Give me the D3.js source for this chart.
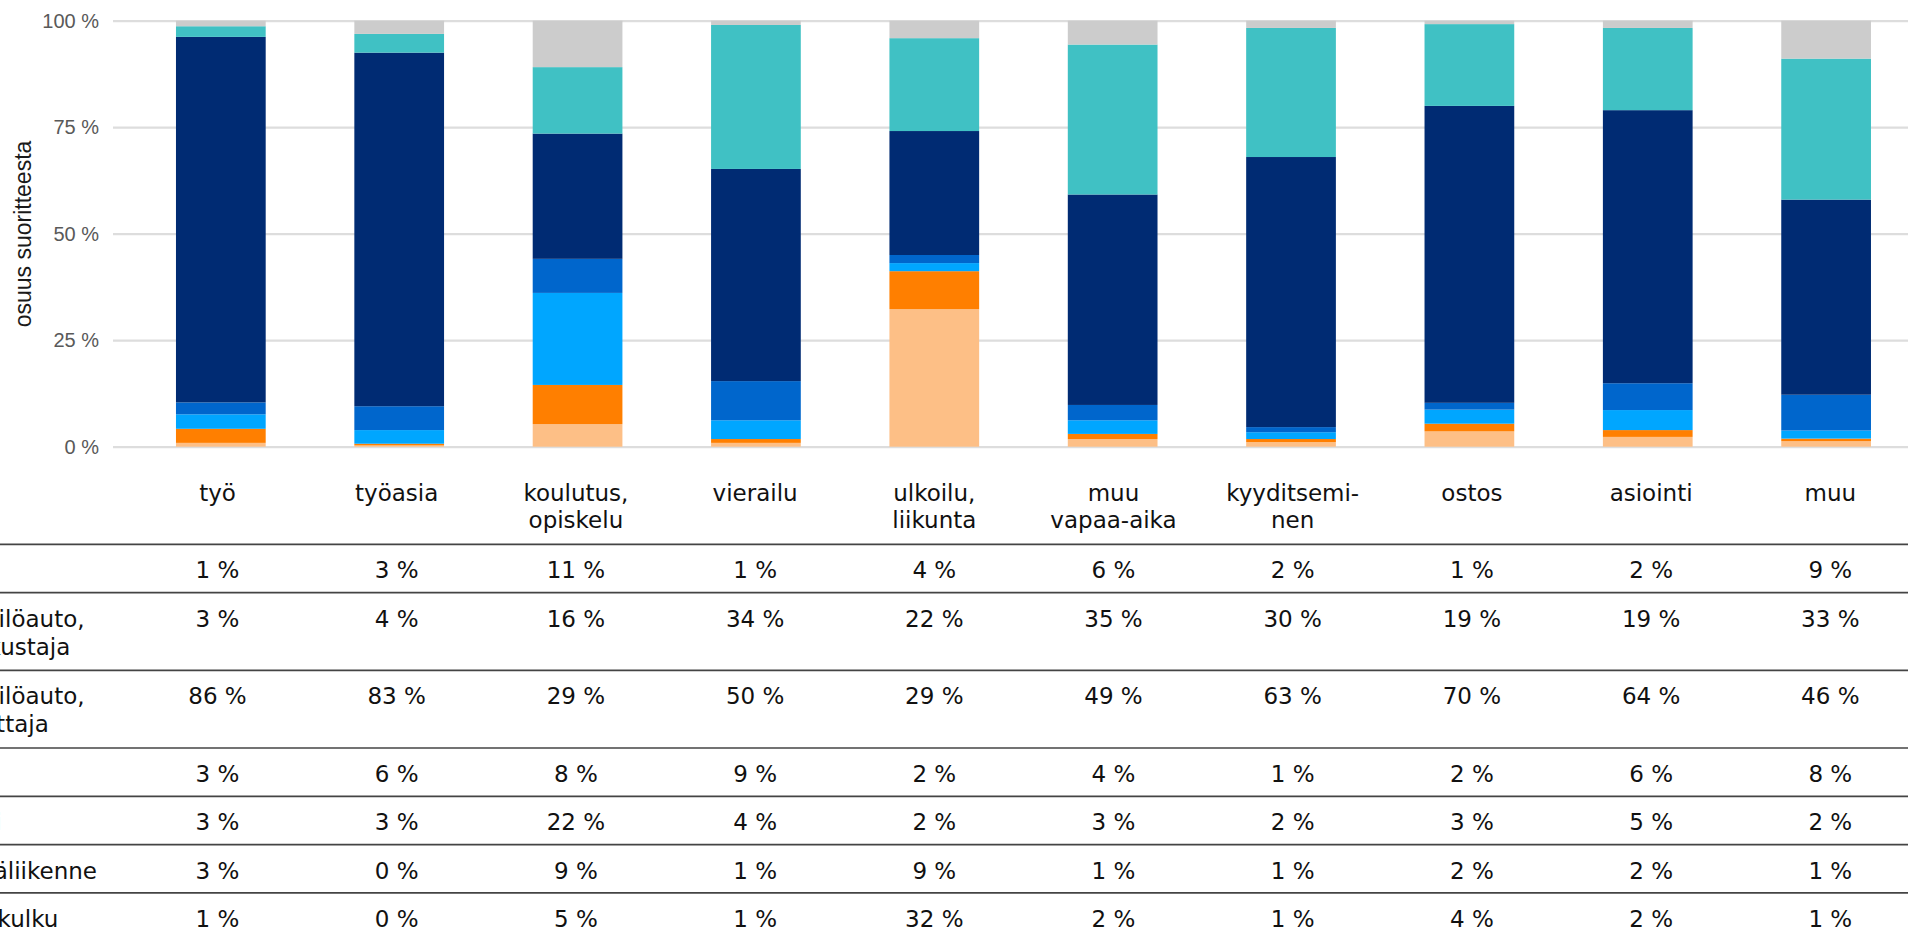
<!DOCTYPE html>
<html lang="fi">
<head>
<meta charset="utf-8">
<script src="https://cdn.jsdelivr.net/npm/d3@7"></script>
<style>
  html, body { margin: 0; padding: 0; background: #fff; overflow: hidden; }
  svg { display: block; }
</style>
</head>
<body>
<svg id="chart" width="1908" height="936"></svg>
<script>
// ---- data ----
const categoryLines = [["työ"], ["työasia"], ["koulutus,", "opiskelu"], ["vierailu"], ["ulkoilu,", "liikunta"],
  ["muu", "vapaa-aika"], ["kyyditsemi-", "nen"], ["ostos"], ["asiointi"], ["muu"]];
const categories = categoryLines.map(l => l.join(" "));

// series from bottom of the stack to the top
const seriesNames = ["jalankulku", "pyöräliikenne", "bussi", "juna", "henkilöauto, kuljettaja", "henkilöauto, matkustaja", "muu"];
const seriesLabelLines = [["jalankulku"], ["pyöräliikenne"], ["bussi"], ["juna"], ["henkilöauto,", "kuljettaja"], ["henkilöauto,", "matkustaja"], ["muu"]];
const jalankulku    = [0.9, 0.3, 5.3, 0.9, 32.3, 1.8, 1.1, 3.6, 2.3, 1.3];
const pyoraliikenne = [3.3, 0.4, 9.2, 0.9, 8.9, 1.2, 0.7, 1.8, 1.6, 0.6];
const bussi         = [3.4, 3.2, 21.6, 4.4, 1.9, 3.2, 1.6, 3.3, 4.7, 1.9];
const juna          = [2.8, 5.6, 8.0, 9.2, 1.9, 3.6, 1.2, 1.6, 6.3, 8.4];
const kuljettaja    = [85.8, 83.0, 29.4, 49.8, 29.1, 49.4, 63.4, 69.7, 64.1, 45.8];
const matkustaja    = [2.5, 4.4, 15.6, 33.8, 21.8, 35.2, 30.3, 19.2, 19.3, 33.1];
const muu           = [1.3, 3.1, 10.9, 1.0, 4.1, 5.6, 1.7, 0.8, 1.7, 8.9];
const seriesValues = [jalankulku, pyoraliikenne, bussi, juna, kuljettaja, matkustaja, muu];
const seriesColors = ["#FDBF86", "#FF7F00", "#00A6FF", "#0066CC", "#002B73", "#40C1C4", "#CCCCCC"];
const yTicks = [0, 25, 50, 75, 100];
const yTitle = "osuus suoritteesta";

// ---- build table for stacking ----
const rows = categories.map((c, i) => {
  const r = { cat: c };
  seriesNames.forEach((s, j) => r[s] = seriesValues[j][i]);
  return r;
});
const stacked = d3.stack().keys(seriesNames)(rows);

const svg = d3.select("#chart");

// ---- scales ----
const y = d3.scaleLinear().domain([0, 100]).range([446.7, 20.7]);
const x = d3.scaleBand().domain(categories).range([131.65, 1915.3]).paddingInner(0.497).paddingOuter(0.2485);
const xt = d3.scaleBand().domain(categories).range([127.9, 1919.9]);   // table columns

// ---- grid + y axis ----
const yAxis = d3.axisLeft(y).tickValues(yTicks).tickFormat(d => d + " %").tickSize(0).tickPadding(14);
const gY = svg.append("g").attr("transform", "translate(113,0)").call(yAxis);
gY.select(".domain").remove();
gY.selectAll(".tick line").remove();
gY.selectAll(".tick").append("line")
  .attr("x1", 0).attr("x2", 1908 - 113)
  .attr("stroke", "#DDDDDD").attr("stroke-width", 2.2);
gY.selectAll(".tick text")
  .attr("fill", "#595959")
  .style("font-family", "'Liberation Sans', Arial, sans-serif")
  .style("font-size", "20px");

svg.append("text")
  .attr("transform", "translate(31,234) rotate(-90)")
  .attr("text-anchor", "middle")
  .style("font-family", "'Liberation Sans', Arial, sans-serif")
  .style("font-size", "23px")
  .attr("fill", "#1a1a1a")
  .text(yTitle);

// ---- bars ----
svg.append("g").selectAll("g").data(stacked).join("g")
  .attr("fill", (d, i) => seriesColors[i])
  .selectAll("rect").data(d => d).join("rect")
  .attr("x", d => x(d.data.cat))
  .attr("width", x.bandwidth())
  .attr("y", d => y(d[1]))
  .attr("height", d => y(d[0]) - y(d[1]));

// ---- category labels ----
const fontT = "'DejaVu Sans', Verdana, sans-serif";
const catG = svg.append("g");
categoryLines.forEach((lines, i) => {
  const t = catG.append("text")
    .attr("text-anchor", "middle")
    .style("font-family", fontT).style("font-size", "23px").attr("fill", "#111");
  lines.forEach((ln, k) => {
    t.append("tspan").attr("x", xt(categories[i]) + xt.bandwidth() / 2)
      .attr("y", 501 + k * 27).text(ln);
  });
});

// ---- data table ----
const tableRows = seriesNames.map((s, j) => j).reverse();  // top row = top of stack
const tableTop = 544.3;
const lineH = 28;
const tG = svg.append("g");
let yPos = tableTop;
tableRows.forEach(j => {
  const nLines = seriesLabelLines[j].length;
  const h = nLines === 1 ? 48.3 : 77.7;
  tG.append("line").attr("x1", 0).attr("x2", 1908).attr("y1", yPos).attr("y2", yPos)
    .attr("stroke", "#444").attr("stroke-width", 1.7);
  const base = yPos + 34;
  // row label (left column, partly outside the view)
  const lt = tG.append("text").style("font-family", fontT).style("font-size", "23px").attr("fill", "#111");
  seriesLabelLines[j].forEach((ln, k) => {
    lt.append("tspan").attr("x", -58).attr("y", base + k * lineH).text(ln);
  });
  // values
  seriesValues[j].forEach((v, i) => {
    tG.append("text")
      .attr("x", xt(categories[i]) + xt.bandwidth() / 2)
      .attr("y", base)
      .attr("text-anchor", "middle")
      .style("font-family", fontT).style("font-size", "23px").attr("fill", "#111")
      .text(Math.round(v) + " %");
  });
  yPos += h;
});
tG.append("line").attr("x1", 0).attr("x2", 1908).attr("y1", yPos).attr("y2", yPos)
  .attr("stroke", "#444").attr("stroke-width", 1.7);
</script>
</body>
</html>
